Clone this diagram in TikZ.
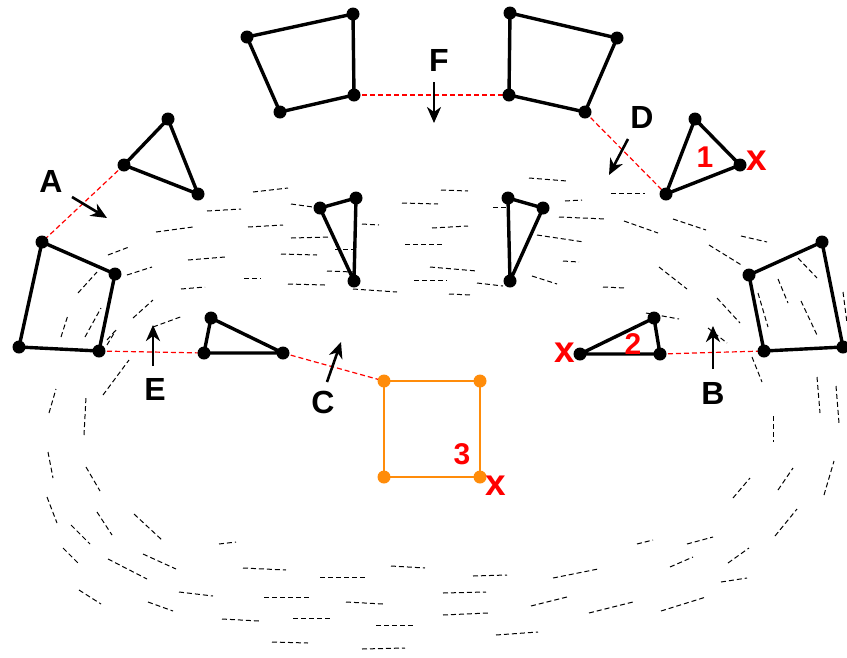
\documentclass[tikz,border=0pt]{standalone}
\usepackage{fontspec}
\setmainfont{Liberation Sans}
\usetikzlibrary{arrows.meta}
\definecolor{orng}{RGB}{255,140,10}
\tikzset{
  edge/.style={line width=3.4pt, line join=round},
  oedge/.style={line width=2.6pt, draw=orng},
  vdot/.style={circle, fill=black, inner sep=0pt, minimum size=13pt},
  odot/.style={circle, fill=orng, inner sep=0pt, minimum size=13pt},
  link/.style={red, line width=1.2pt, dash pattern=on 5pt off 3pt},
  pc/.style={black, line width=1pt, dash pattern=on 5pt off 3pt},
  marker/.style={line width=2.6pt, -{Stealth[length=16pt,width=14pt,inset=5pt]}},
  lbl/.style={font=\fontsize{32}{32}\selectfont\bfseries, inner sep=0pt},
  rnum/.style={font=\fontsize{30}{30}\selectfont\bfseries, text=red, inner sep=0pt},
  rx/.style={font=\fontsize{37}{37}\selectfont\bfseries, text=red, inner sep=0pt}
}
\begin{document}
\begin{tikzpicture}[x=1pt,y=-1pt]
\useasboundingbox (0,0) rectangle (847,657);
% point cloud dashes
\foreach \a/\b/\c/\d in {
253/192/288/188, 207/211/241/209, 156/232/193/227, 108/255/129/247,
248/227/283/225, 291/204/313/207, 291/238/330/237, 281/254/317/255,
188/260/225/257, 127/275/152/267, 244/278/261/278, 288/284/325/285,
181/289/205/287, 327/271/353/272, 335/249/358/249, 362/224/379/225,
353/289/397/292, 402/203/438/204, 405/244/442/244, 414/280/447/280,
133/318/153/300, 153/327/183/316, 107/340/115/331, 441/190/468/191,
529/178/567/181, 493/207/508/207, 565/201/582/200, 432/228/468/226,
559/217/606/219, 537/235/584/242, 611/193/645/193, 624/221/658/233,
673/219/706/230, 709/245/743/266, 563/261/579/262, 430/267/477/271,
477/283/503/286, 449/294/471/295, 532/276/557/284, 603/287/625/288,
659/267/687/289, 717/298/740/323, 646/313/679/319, 708/328/727/343,
741/236/767/242,
798/258/817/278, 778/279/788/303, 758/293/768/327, 801/301/817/335, 843/292/847/323,
78/293/97/272, 61/337/68/315, 85/337/101/308, 107/345/116/330,
103/395/129/360, 49/413/56/389, 84/435/86/397, 48/452/53/478,
86/467/100/491, 47/497/57/523, 97/512/112/535, 134/514/162/540,
71/525/90/544, 63/548/79/564, 108/559/147/579, 143/554/176/569,
219/544/236/542, 243/568/286/570, 179/592/213/596, 79/590/101/604,
148/602/173/611, 222/619/259/621, 264/597/309/597, 272/642/308/643,
293/618/331/618, 320/577/366/577, 391/566/425/568, 473/576/507/575,
553/578/598/569, 637/544/653/540, 346/602/383/604, 443/593/486/592,
531/606/567/597, 589/613/633/602, 376/625/413/625, 443/615/488/613,
496/635/538/632, 362/649/405/648,
752/357/762/382, 817/377/820/413, 836/386/839/423, 773/416/773/442,
733/498/750/478, 778/490/793/468, 824/495/834/461, 775/536/797/509,
728/563/749/548, 687/544/713/537, 670/567/693/557, 721/582/747/578,
661/611/706/597}
  \draw[pc] (\a,\b) -- (\c,\d);

% vertices
\coordinate (ta1) at (168,119); \coordinate (ta2) at (124,165); \coordinate (ta3) at (198,194);
\coordinate (ql1) at (42,242); \coordinate (ql2) at (115,274); \coordinate (ql3) at (99,351); \coordinate (ql4) at (19,347);
\coordinate (te1) at (211,318); \coordinate (te2) at (204,353); \coordinate (te3) at (283,353);
\coordinate (ti1) at (320,208); \coordinate (ti2) at (356,198); \coordinate (ti3) at (354,281);
\coordinate (tj1) at (508,198); \coordinate (tj2) at (543,208); \coordinate (tj3) at (510,281);
\coordinate (qa1) at (247,37); \coordinate (qa2) at (353,14); \coordinate (qa3) at (354,95); \coordinate (qa4) at (280,112);
\coordinate (qb1) at (510,13); \coordinate (qb2) at (617,38); \coordinate (qb3) at (585,112); \coordinate (qb4) at (509,95);
\coordinate (t11) at (695,119); \coordinate (t12) at (740,165); \coordinate (t13) at (666,194);
\coordinate (t21) at (654,318); \coordinate (t22) at (660,354); \coordinate (t23) at (580,354);
\coordinate (qr1) at (749,275); \coordinate (qr2) at (822,242); \coordinate (qr3) at (843,347); \coordinate (qr4) at (764,351);
\coordinate (s1) at (384,381); \coordinate (s2) at (480,381); \coordinate (s3) at (480,477); \coordinate (s4) at (384,477);

% red links
\draw[link] (ta2) -- (ql1);
\draw[link] (ql3) -- (te2);
\draw[link] (te3) -- (s1);
\draw[link] (qa3) -- (qb4);
\draw[link] (qb3) -- (t13);
\draw[link] (t22) -- (qr4);

% polygons
\draw[edge] (ta1) -- (ta2) -- (ta3) -- cycle;
\draw[edge] (ql1) -- (ql2) -- (ql3) -- (ql4) -- cycle;
\draw[edge] (te1) -- (te2) -- (te3) -- cycle;
\draw[edge] (ti1) -- (ti2) -- (ti3) -- cycle;
\draw[edge] (tj1) -- (tj2) -- (tj3) -- cycle;
\draw[edge] (qa1) -- (qa2) -- (qa3) -- (qa4) -- cycle;
\draw[edge] (qb1) -- (qb2) -- (qb3) -- (qb4) -- cycle;
\draw[edge] (t11) -- (t12) -- (t13) -- cycle;
\draw[edge] (t21) -- (t22) -- (t23) -- cycle;
\draw[edge] (qr1) -- (qr2) -- (qr3) -- (qr4) -- cycle;
\draw[oedge] (s1) -- (s2) -- (s3) -- (s4) -- cycle;

% dots
\foreach \p in {ta1,ta2,ta3,ql1,ql2,ql3,ql4,te1,te2,te3,ti1,ti2,ti3,tj1,tj2,tj3,
  qa1,qa2,qa3,qa4,qb1,qb2,qb3,qb4,t11,t12,t13,t21,t22,t23,qr1,qr2,qr3,qr4}
  \node[vdot] at (\p) {};
\foreach \p in {s1,s2,s3,s4}
  \node[odot] at (\p) {};

% markers and labels
\node[lbl] (lA) at (51,181) {A};
\coordinate (aA1) at (72,197); \coordinate (aA2) at (107,218);
\draw[marker] (aA1) -- (aA2);

\node[lbl] (lF) at (439,60) {F};
\coordinate (aF1) at (434,82); \coordinate (aF2) at (434,123);
\draw[marker] (aF1) -- (aF2);

\node[lbl] (lD) at (642,117) {D};
\coordinate (aD1) at (628,139); \coordinate (aD2) at (609,175);
\draw[marker] (aD1) -- (aD2);

\node[lbl] (lE) at (155,389) {E};
\coordinate (aE1) at (153,366); \coordinate (aE2) at (153,325);
\draw[marker] (aE1) -- (aE2);

\node[lbl] (lC) at (323,402) {C};
\coordinate (aC1) at (327,382); \coordinate (aC2) at (341,342);
\draw[marker] (aC1) -- (aC2);

\node[lbl] (lB) at (713,393) {B};
\coordinate (aB1) at (713,369); \coordinate (aB2) at (713,326);
\draw[marker] (aB1) -- (aB2);

\node[rnum] (n1) at (705,157) {1};
\node[rx] (x1) at (757,161) {x};
\node[rnum] (n2) at (633,344) {2};
\node[rx] (x2) at (565,353) {x};
\node[rnum] (n3) at (462,454) {3};
\node[rx] (x3) at (496,486) {x};
\end{tikzpicture}
\end{document}
